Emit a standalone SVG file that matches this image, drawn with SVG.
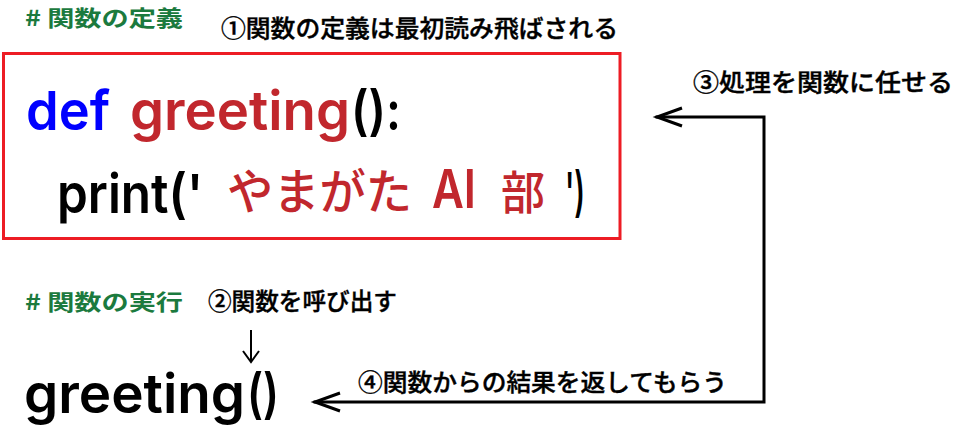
<svg xmlns="http://www.w3.org/2000/svg" width="954" height="437" viewBox="0 0 954 437">
<style>
.jp{font-family:"Noto Sans CJK JP","Noto Sans CJK SC",sans-serif;}
.code{font-family:Inter,"Liberation Sans",Arial,sans-serif;font-weight:600;font-size:54px;}
.cmt{font-family:"Noto Sans CJK JP",sans-serif;font-weight:bold;font-size:22px;fill:#1b7a3e;}
.lbl{font-family:"Noto Sans CJK JP",sans-serif;font-weight:500;font-size:24px;fill:#000;stroke:#000;stroke-width:0.4;}
.ln{fill:none;stroke:#000;stroke-width:3;stroke-linecap:square;}
.head{fill:none;stroke:#000;stroke-width:3;stroke-linejoin:miter;}
</style>
<rect width="954" height="437" fill="#fff"/>
<g id="comment-def"><text class="cmt" x="25" y="26" textLength="158" lengthAdjust="spacingAndGlyphs"># 関数の定義</text></g>
<g id="label1"><text class="lbl" x="221" y="37" textLength="397" lengthAdjust="spacingAndGlyphs">①関数の定義は最初読み飛ばされる</text></g>
<g id="code-block">
<rect x="3.5" y="53.5" width="616.5" height="185" fill="#fff" stroke="#ed1c24" stroke-width="3"/>
<text class="code" x="26" y="130" fill="#0000ff" textLength="84" lengthAdjust="spacingAndGlyphs">def</text>
<text class="code" x="130" y="130" fill="#c1272d" textLength="220" lengthAdjust="spacingAndGlyphs">greeting</text>
<text class="code" x="351" y="130" fill="#000" textLength="50" lengthAdjust="spacingAndGlyphs">():</text>
<text class="code" x="57" y="213" fill="#000" textLength="146" lengthAdjust="spacingAndGlyphs">print('</text>
<text class="jp" x="227" y="209" fill="#c1272d" font-size="48" font-weight="500" textLength="185" lengthAdjust="spacingAndGlyphs">やまがた</text>
<text class="code" x="432" y="208" fill="#c1272d" textLength="44" lengthAdjust="spacingAndGlyphs">AI</text>
<text class="jp" x="501" y="209" fill="#c1272d" font-size="46" font-weight="500" textLength="44" lengthAdjust="spacingAndGlyphs">部</text>
<text class="code" x="565" y="211" fill="#000" textLength="20" lengthAdjust="spacingAndGlyphs">')</text>
</g>
<g id="comment-run"><text class="cmt" x="25" y="310" textLength="158" lengthAdjust="spacingAndGlyphs"># 関数の実行</text></g>
<g id="label2"><text class="lbl" x="208" y="310" textLength="189" lengthAdjust="spacingAndGlyphs">②関数を呼び出す</text></g>
<g id="call"><text class="code" x="24" y="413" fill="#000" textLength="221" lengthAdjust="spacingAndGlyphs">greeting</text>
<text class="code" x="247" y="413" fill="#000" textLength="32" lengthAdjust="spacingAndGlyphs">()</text></g>
<g id="label3"><text class="lbl" x="693" y="91" textLength="260" lengthAdjust="spacingAndGlyphs">③処理を関数に任せる</text></g>
<g id="label4"><text class="lbl" x="358" y="391" textLength="369" lengthAdjust="spacingAndGlyphs">④関数からの結果を返してもらう</text></g>
<g id="connectors">
<path d="M251 330 V362 M243 351 L251 362 L259 351" fill="none" stroke="#000" stroke-width="2"/>
<path class="ln" d="M657 117 H764 V402 H315"/>
<path class="head" d="M682 108 L657 117 L682 126"/>
<path class="head" d="M340 393 L315 402 L340 411"/>
</g>
</svg>
